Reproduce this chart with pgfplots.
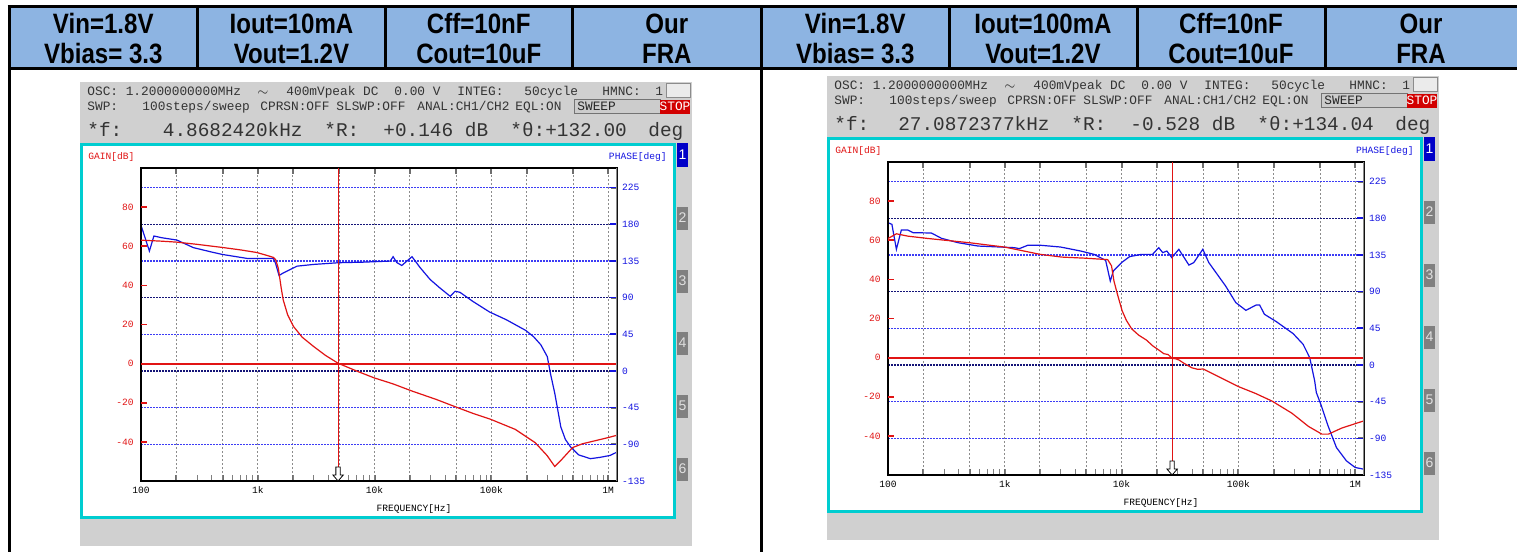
\documentclass[border=0pt]{standalone}
\usepackage{pgfplots}
\pgfplotsset{compat=1.18}
\usepackage{fontspec}
\setmainfont{Liberation Sans}
\newfontfamily\hdr[FakeStretch=0.86]{Liberation Sans Bold}
\newfontfamily\mono{Liberation Mono}
\definecolor{hblue}{RGB}{141,180,226}
\definecolor{pgray}{RGB}{208,208,208}
\definecolor{cyanb}{RGB}{0,205,208}
\definecolor{gblue}{RGB}{60,60,245}
\definecolor{gdark}{RGB}{20,20,120}
\definecolor{ggray}{RGB}{140,140,140}
\definecolor{tickgray}{RGB}{110,110,110}
\definecolor{cred}{RGB}{225,20,20}
\definecolor{cblue}{RGB}{20,20,225}
\definecolor{btn}{RGB}{128,128,128}
\definecolor{btnblue}{RGB}{0,0,200}
\definecolor{stopred}{RGB}{210,0,0}
\newcommand\tinyfont{\mono\fontsize{4.8}{5}\selectfont}
\newcommand\smallmono{\mono\fontsize{6.4}{7}\selectfont}
\newcommand\bigmono{\mono\fontsize{9.7}{11}\selectfont}
\newcommand\hdrfont{\hdr\fontsize{14}{16}\selectfont}
\newcommand\btnfont{\fontsize{7}{8}\selectfont}

% panel decoration: #1 dx, #2 dy, #3 freq, #4 R, #5 theta
\newcommand\panel[5]{%
\begin{scope}[shift={(#1,#2)}]
 \fill[pgray] (80,82) rectangle (692,546);
 \fill[white] (80,143) rectangle (676,519);
 \draw[cyanb, line width=1.5pt] (81.5,144.5) rectangle (674.5,517.5);
 \fill[btnblue] (677,143) rectangle (688,167);
 \node[text=white, font=\btnfont, inner sep=0pt] at (682.5,155) {1};
 \foreach \yy/\lab in {218/2,281/3,343/4,406/5,469/6} {
   \fill[btn] (677,\yy-11.5) rectangle (688,\yy+11.5);
   \node[text=black!12, font=\btnfont, inner sep=0pt] at (682.5,\yy) {\lab};
 }
 \begin{scope}[every node/.style={anchor=base west, inner sep=0pt, font=\smallmono, text=black!80}]
 \node at (87,95.5) {OSC: 1.2000000000MHz};
 \node[anchor=base] at (263,95.5) {$\sim$};
 \node at (286,95.5) {400mVpeak DC};
 \node at (394,95.5) {0.00 V};
 \node at (457,95.5) {INTEG:};
 \node at (524,95.5) {50cycle};
 \node at (602,95.5) {HMNC:};
 \node at (655,95.5) {1};
 \node at (87,110.5) {SWP:};
 \node at (142,110.5) {100steps/sweep};
 \node at (260,110.5) {CPRSN:OFF};
 \node at (336,110.5) {SLSWP:OFF};
 \node at (417,110.5) {ANAL:CH1/CH2};
 \node at (515,110.5) {EQL:ON};
 \end{scope}
 \draw[black!45, fill=black!8] (666,83) rectangle (690,97);
 \draw[black!55, fill=black!20] (574,99.5) rectangle (660,113.5);
 \node[anchor=base west, inner sep=0pt, font=\smallmono, text=black!85] at (577,110.5) {SWEEP};
 \fill[stopred] (660,99.5) rectangle (690,113.5);
 \node[anchor=base, inner sep=0pt, font=\smallmono, text=white] at (675,110.5) {STOP};
 \begin{scope}[every node/.style={anchor=base west, inner sep=0pt, font=\bigmono, text=black!80}]
 \node at (87,136) {*f:};
 \node[anchor=base east] at (303,136) {#3};
 \node at (324,136) {*R:};
 \node at (383,136) {#4};
 \node at (510,136) {*θ:#5};
 \node at (648,136) {deg};
 \end{scope}
 \node[anchor=base west, inner sep=0pt, font=\tinyfont, text=cred] at (88,159) {GAIN[dB]};
 \node[anchor=base east, inner sep=0pt, font=\tinyfont, text=cblue] at (667,159) {PHASE[deg]};
 \node[inner sep=0pt, font=\tinyfont] at (414,509.5) {FREQUENCY[Hz]};
\end{scope}}

\begin{document}
\begin{tikzpicture}
\begin{scope}[x=0.5pt, y=-0.5pt]
 \path[use as bounding box] (0,0) rectangle (1517,552);
 \fill[white] (0,0) rectangle (1517,552);
 \fill[hblue] (9,6) rectangle (1517,68);
 \draw[black, line width=1.5pt] (7.5,6) -- (1517,6);
 \draw[black, line width=1.5pt] (9,68) -- (1517,68);
 \draw[black, line width=1.5pt] (9,5) -- (9,552);
 \draw[black, line width=1.5pt] (761.5,5) -- (761.5,552);
 \foreach \xx in {197.5,385.5,572,949,1137,1325} \draw[black, line width=1.5pt] (\xx,6) -- (\xx,68);
 \begin{scope}[every node/.style={anchor=base, inner sep=0pt, font=\hdrfont}]
  \node at (103.3,33) {Vin=1.8V};   \node at (103.3,63) {Vbias= 3.3};
  \node at (291.5,33) {Iout=10mA};  \node at (291.5,63) {Vout=1.2V};
  \node at (478.8,33) {Cff=10nF};   \node at (478.8,63) {Cout=10uF};
  \node at (666.8,33) {Our};        \node at (666.8,63) {FRA};
  \node at (855.3,33) {Vin=1.8V};   \node at (855.3,63) {Vbias= 3.3};
  \node at (1043,33) {Iout=100mA};  \node at (1043,63) {Vout=1.2V};
  \node at (1231,33) {Cff=10nF};    \node at (1231,63) {Cout=10uF};
  \node at (1421,33) {Our};         \node at (1421,63) {FRA};
 \end{scope}
 \panel{0}{0}{4.8682420kHz}{+0.146 dB}{+132.00}
 \panel{747}{-6}{27.0872377kHz}{-0.528 dB}{+134.04}
 \coordinate (PL) at (141,481);
 \coordinate (PR) at (888,475);
\end{scope}

% ---------- left panel ----------
\begin{axis}[at={(PL)}, anchor=south west, scale only axis, width=238pt, height=156.5pt,
    xmode=log, xmin=100, xmax=1.19e6, ymin=-135, ymax=249, tick align=inside,
    axis line style={draw=none},
    xtick={100,200,500,1000,2000,5000,10000,20000,50000,100000,200000,500000,1000000},
    xticklabels={}, xtick pos=both, major tick length=2.8pt,
    every tick/.style={draw=tickgray, line width=1pt},
    xmajorgrids, x grid style={ggray, line width=0.5pt, dash pattern=on 1pt off 1pt},
    ytick={-135,-90,-45,0,45,90,135,180,225},
    yticklabels={-135,-90,-45,0,45,90,135,180,225},
    ytick pos=right, yticklabel pos=right,
    ymajorgrids, y grid style={gblue, line width=0.6pt, dash pattern=on 0.9pt off 0.6pt},
    yticklabel style={font=\tinyfont, text=cblue, inner sep=0pt, anchor=west, xshift=2.3pt}]
 \addplot[gdark, line width=0.6pt, dash pattern=on 0.9pt off 0.6pt] coordinates {(100,180) (1.19e6,180)};
 \addplot[gdark, line width=0.6pt, dash pattern=on 0.9pt off 0.6pt] coordinates {(100,90) (1.19e6,90)};
 \addplot[gdark, line width=0.6pt, dash pattern=on 0.9pt off 0.6pt] coordinates {(100,0) (1.19e6,0)};
 \pgfplotsinvokeforeach{-90,-45,0,45,90,135,180,225}{\draw[cblue, line width=0.8pt] (axis cs:1.19e6,#1) -- ++(-3.5pt,0pt);}
 \addplot[cblue, line width=0.6pt] coordinates {
  (100,178.8) (118,147.1) (129,165.6) (150,163.5) (203,160.6) (281,151.3) (400,146)
  (495,143) (808,138.1) (1360,138.1) (1420,132) (1520,117.1) (1660,120.4) (2170,128.6)
  (3000,130.7) (4900,132.8) (8000,133.5) (13600,134.8) (14400,140.2) (15500,133)
  (17100,129.4) (20900,140.2) (24600,126.6) (29900,112.2) (36200,101.9) (44400,91.6)
  (48900,97.8) (53800,96.5) (69300,85.4) (96300,72.4) (134000,62.9) (197000,49.7)
  (230000,42) (265000,32.1) (301000,17.6) (320000,-2.8) (349000,-27.5) (393000,-68.7)
  (430000,-84) (477000,-93.3) (560000,-103) (704000,-107.6) (850000,-106)
  (1040000,-103.6) (1190000,-99.5)};
\end{axis}
\begin{axis}[at={(PL)}, anchor=south west, scale only axis, width=238pt, height=156.5pt,
    xmode=log, xmin=100, xmax=1.19e6, ymin=-60, ymax=100, tick align=inside,
    axis line style={black, line width=1pt},
    xtick={100,1000,10000,100000,1000000}, xticklabels={100,1k,10k,100k,1M},
    xtick pos=bottom, major tick length=0pt,
    xticklabel style={font=\tinyfont, inner sep=0pt, anchor=north, yshift=-2.8pt},
    ytick={-40,-20,0,20,40,60,80}, yticklabels={-40,-20,0,20,40,60,80},
    ytick pos=left,
    yticklabel style={font=\tinyfont, text=cred, inner sep=0pt, anchor=east, xshift=-3.5pt}]
 \addplot[cred, line width=0.9pt] coordinates {(100,0) (1.19e6,0)};
 \addplot[cred, line width=0.5pt] coordinates {(4868.242,-60) (4868.242,100)};
 \addplot[cred, line width=0.6pt] coordinates {
  (100,63.1) (128,62.8) (150,62.6) (203,62.1) (300,61) (495,59.4) (700,58.2) (982,56.8)
  (1200,55.3) (1360,54.3) (1420,53.2) (1500,48.7) (1580,39.3) (1650,32.6) (1800,25)
  (2020,19) (2400,13.5) (3000,8.8) (3800,4.2) (4870,0.2) (7100,-3.9) (9930,-7.3)
  (14300,-10.3) (21100,-14.1) (33700,-18.3) (49800,-22.2) (70000,-25.5) (98900,-28.5)
  (160000,-33.6) (237000,-40.4) (300000,-47) (349000,-52.6) (400000,-49) (496000,-42.9)
  (600000,-41) (762000,-39.5) (1000000,-37.8) (1190000,-36.6)};
 \pgfplotsinvokeforeach{-40,-20,0,20,40,60,80}{\draw[cred, line width=0.8pt] (axis cs:100,#1) -- ++(3pt,0pt);}
 \draw[ggray, line width=1pt] (rel axis cs:1,0) -- (rel axis cs:1,1);
 \draw[black, fill=white, line width=0.4pt, shift={(axis cs:4868.242,-60)}]
   (0pt,0pt) -- (-2.6pt,3pt) -- (-1.1pt,3pt) -- (-1.1pt,7pt) -- (1.1pt,7pt) -- (1.1pt,3pt) -- (2.6pt,3pt) -- cycle;
\end{axis}

% ---------- right panel ----------
\begin{axis}[at={(PR)}, anchor=south west, scale only axis, width=238pt, height=156.5pt,
    xmode=log, xmin=100, xmax=1.19e6, ymin=-135, ymax=249, tick align=inside,
    axis line style={draw=none},
    xtick={100,200,500,1000,2000,5000,10000,20000,50000,100000,200000,500000,1000000},
    xticklabels={}, xtick pos=both, major tick length=2.8pt,
    every tick/.style={draw=tickgray, line width=1pt},
    xmajorgrids, x grid style={ggray, line width=0.5pt, dash pattern=on 1pt off 1pt},
    ytick={-135,-90,-45,0,45,90,135,180,225},
    yticklabels={-135,-90,-45,0,45,90,135,180,225},
    ytick pos=right, yticklabel pos=right,
    ymajorgrids, y grid style={gblue, line width=0.6pt, dash pattern=on 0.9pt off 0.6pt},
    yticklabel style={font=\tinyfont, text=cblue, inner sep=0pt, anchor=west, xshift=2.3pt}]
 \addplot[gdark, line width=0.6pt, dash pattern=on 0.9pt off 0.6pt] coordinates {(100,180) (1.19e6,180)};
 \addplot[gdark, line width=0.6pt, dash pattern=on 0.9pt off 0.6pt] coordinates {(100,90) (1.19e6,90)};
 \addplot[gdark, line width=0.6pt, dash pattern=on 0.9pt off 0.6pt] coordinates {(100,0) (1.19e6,0)};
 \pgfplotsinvokeforeach{-90,-45,0,45,90,135,180,225}{\draw[cblue, line width=0.8pt] (axis cs:1.19e6,#1) -- ++(-3.5pt,0pt);}
 \addplot[cblue, line width=0.6pt] coordinates {
  (100,174.6) (108,172.5) (118,141.9) (130,165.5) (148,165.5) (164,162.3) (235,161.9)
  (287,155.4) (398,150) (591,145.9) (1210,143.9) (1330,142.7) (1570,146.8) (2040,146.8)
  (3000,144.7) (4460,139.8) (5800,135.7) (7300,128.4) (8000,103) (8500,115.3)
  (10000,125.6) (11700,132.9) (14800,135.7) (18400,135.7) (20800,143.9) (22500,137.8)
  (24400,139.8) (26900,131.7) (30900,141.9) (37700,122.6) (41500,125.6) (49600,141.9)
  (55800,125.6) (77700,96.9) (95000,76.5) (116000,67) (142000,73.6) (152000,73.6)
  (167000,62.2) (211000,53.2) (294000,38.5) (358000,25.4) (408000,9) (450000,-19.6)
  (465000,-33.8) (514000,-50.3) (586000,-74.8) (691000,-101.3) (842000,-117.7)
  (1000000,-125.8) (1190000,-127.9)};
\end{axis}
\begin{axis}[at={(PR)}, anchor=south west, scale only axis, width=238pt, height=156.5pt,
    xmode=log, xmin=100, xmax=1.19e6, ymin=-60, ymax=100, tick align=inside,
    axis line style={black, line width=1pt},
    xtick={100,1000,10000,100000,1000000}, xticklabels={100,1k,10k,100k,1M},
    xtick pos=bottom, major tick length=0pt,
    xticklabel style={font=\tinyfont, inner sep=0pt, anchor=north, yshift=-2.8pt},
    ytick={-40,-20,0,20,40,60,80}, yticklabels={-40,-20,0,20,40,60,80},
    ytick pos=left,
    yticklabel style={font=\tinyfont, text=cred, inner sep=0pt, anchor=east, xshift=-3.5pt}]
 \addplot[cred, line width=0.9pt] coordinates {(100,0) (1.19e6,0)};
 \addplot[cred, line width=0.5pt] coordinates {(27087.2377,-60) (27087.2377,100)};
 \addplot[cred, line width=0.6pt] coordinates {
  (100,60.9) (118,63.3) (148,62.1) (220,60.9) (504,58.7) (1000,56.5) (2000,52.8)
  (3070,51.4) (5000,50.8) (7600,50.1) (8200,46.9) (8600,39.2) (9200,32.5) (10100,24)
  (11000,19) (12200,14.7) (14000,11.5) (16300,9) (18500,6) (20800,3.9) (23000,2)
  (25000,1.6) (27000,-0.3) (29000,-0.6) (31000,-1.2) (34000,-2.8) (40000,-5.2)
  (45000,-6) (50000,-5.8) (57000,-7.5) (72800,-10.7) (101000,-14.9) (140000,-18.3)
  (194000,-22.2) (287000,-28.4) (399000,-35.2) (518000,-39.1) (591000,-39.1)
  (768000,-36) (1190000,-32.3)};
 \pgfplotsinvokeforeach{-40,-20,0,20,40,60,80}{\draw[cred, line width=0.8pt] (axis cs:100,#1) -- ++(3pt,0pt);}
 \draw[ggray, line width=1pt] (rel axis cs:1,0) -- (rel axis cs:1,1);
 \draw[black, fill=white, line width=0.4pt, shift={(axis cs:27087.2377,-60)}]
   (0pt,0pt) -- (-2.6pt,3pt) -- (-1.1pt,3pt) -- (-1.1pt,7pt) -- (1.1pt,7pt) -- (1.1pt,3pt) -- (2.6pt,3pt) -- cycle;
\end{axis}
\end{tikzpicture}
\end{document}
